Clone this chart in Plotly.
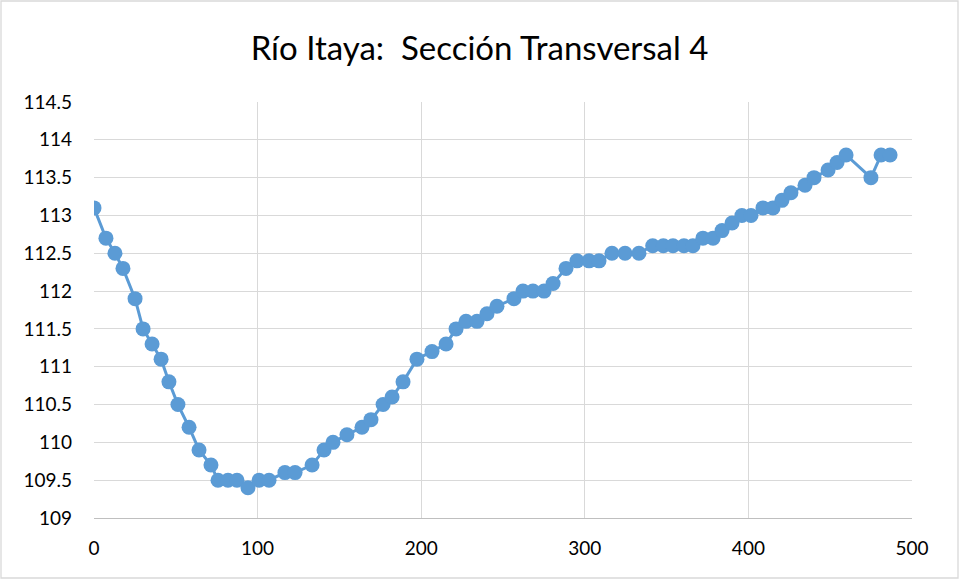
import plotly.graph_objects as go

distance = [0, 7.3, 12.8, 17.7, 25.1, 30, 35.5, 41, 45.8, 51.3, 58.1, 64.2, 71.5, 75.8,
            81.9, 87.4, 94.1, 100.9, 107, 116.7, 122.9, 133.3, 140.6, 146.1, 154.6,
            163.8, 169.3, 176.7, 182.2, 188.9, 197.4, 206.6, 215.2, 221.3, 227.4,
            234.1, 240.2, 246.3, 256.7, 262.2, 268.3, 275.1, 280.6, 288.5, 295.2,
            302.6, 308.7, 316.6, 324.6, 333.1, 341.5, 348, 353.9, 360.6, 366.1,
            372.2, 378.4, 383.9, 390, 396, 401.6, 408.9, 415, 420.5, 426, 434.6,
            440.1, 448.7, 454.2, 459.7, 474.9, 481.1, 486.6]
elevation = [113.1, 112.7, 112.5, 112.3, 111.9, 111.5, 111.3, 111.1, 110.8, 110.5,
             110.2, 109.9, 109.7, 109.5, 109.5, 109.5, 109.4, 109.5, 109.5, 109.6,
             109.6, 109.7, 109.9, 110.0, 110.1, 110.2, 110.3, 110.5, 110.6, 110.8,
             111.1, 111.2, 111.3, 111.5, 111.6, 111.6, 111.7, 111.8, 111.9, 112.0,
             112.0, 112.0, 112.1, 112.3, 112.4, 112.4, 112.4, 112.5, 112.5, 112.5,
             112.6, 112.6, 112.6, 112.6, 112.6, 112.7, 112.7, 112.8, 112.9, 113.0,
             113.0, 113.1, 113.1, 113.2, 113.3, 113.4, 113.5, 113.6, 113.7, 113.8,
             113.5, 113.8, 113.8]

y_ticks = [109, 109.5, 110, 110.5, 111, 111.5, 112, 112.5, 113, 113.5, 114, 114.5]
y_labels = ["109", "109.5", "110", "110.5", "111", "111.5", "112", "112.5", "113",
            "113.5", "114", "114.5"]
x_ticks = [0, 100, 200, 300, 400, 500]
title_text = "Río Itaya:\u00a0 Sección Transversal 4"

FONT = "Lato"
COLOR = "#5b9bd5"

fig = go.Figure()
fig.add_trace(go.Scatter(
    x=distance, y=elevation, mode="lines+markers",
    line=dict(color=COLOR, width=3),
    marker=dict(color=COLOR, size=15),
    showlegend=False, hoverinfo="x+y",
))

fig.update_layout(
    width=959, height=579,
    margin=dict(l=94, r=47, t=102, b=61),
    paper_bgcolor="white", plot_bgcolor="white",
    font=dict(family=FONT, color="#404040", size=19),
    title=dict(text=title_text, x=0.5, xref="container", xanchor="center",
               y=1 - 48 / 579, yref="container", yanchor="middle",
               font=dict(family=FONT, size=33, color="#000000")),
    xaxis=dict(range=[0, 500], tickvals=x_ticks, showgrid=True, gridcolor="#d9d9d9",
               gridwidth=1.3, zeroline=False, showline=True, linecolor="#bfbfbf",
               linewidth=1.3, ticks="", ticklabelstandoff=13,
               tickfont=dict(family=FONT, size=19, color="#000000")),
    yaxis=dict(range=[109, 114.5], tickvals=y_ticks, ticktext=y_labels,
               showgrid=True, gridcolor="#d9d9d9", gridwidth=1.3, zeroline=False,
               showline=False, ticks="", ticklabelstandoff=21,
               tickfont=dict(family=FONT, size=19, color="#000000")),
    shapes=[dict(type="rect", xref="paper", yref="paper",
                 x0=(1 - 94) / 818, x1=(958 - 94) / 818,
                 y0=(518 - 578) / 416, y1=(518 - 1) / 416,
                 line=dict(color="#d9d9d9", width=1.3), fillcolor="rgba(0,0,0,0)",
                 layer="below")],
)

fig.write_html("out.html", config={"displayModeBar": False},
               post_script="document.body.style.margin='0';")
